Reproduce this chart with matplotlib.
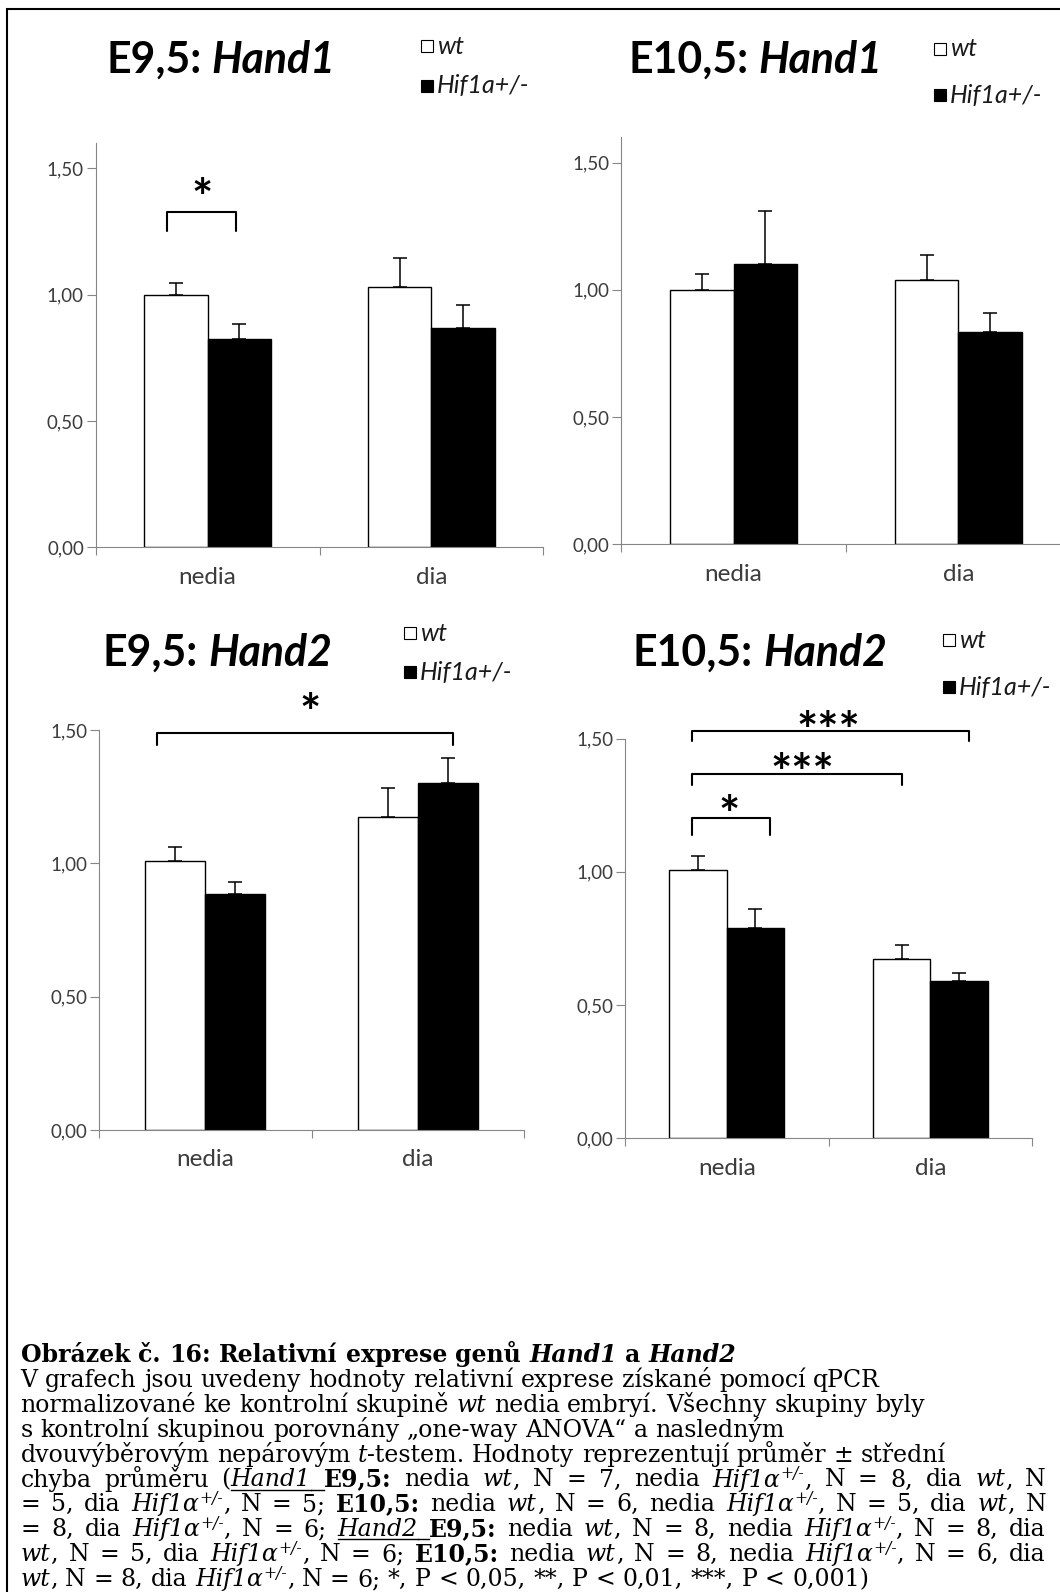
import numpy as np
import matplotlib
matplotlib.use("Agg")
import matplotlib.pyplot as plt
from matplotlib.font_manager import FontProperties
from matplotlib.patches import Rectangle
from matplotlib.lines import Line2D

plt.rcParams['font.family'] = ['Lato', 'DejaVu Sans']

# ---------------------------------------------------------------- data
categories = ["nedia", "dia"]
series_names = ["wt", "Hif1a+/-"]
yticks = [0.0, 0.5, 1.0, 1.5]
ytick_labels = ["0,00", "0,50", "1,00", "1,50"]

# Hand1, E9,5
hand1_e95_wt = [1.00, 1.03]
hand1_e95_wt_sem = [0.045, 0.115]
hand1_e95_hif = [0.824, 0.868]
hand1_e95_hif_sem = [0.058, 0.091]

# Hand1, E10,5
hand1_e105_wt = [1.00, 1.04]
hand1_e105_wt_sem = [0.064, 0.098]
hand1_e105_hif = [1.10, 0.833]
hand1_e105_hif_sem = [0.211, 0.076]

# Hand2, E9,5
hand2_e95_wt = [1.008, 1.173]
hand2_e95_wt_sem = [0.053, 0.109]
hand2_e95_hif = [0.886, 1.302]
hand2_e95_hif_sem = [0.046, 0.092]

# Hand2, E10,5
hand2_e105_wt = [1.008, 0.673]
hand2_e105_wt_sem = [0.050, 0.052]
hand2_e105_hif = [0.789, 0.591]
hand2_e105_hif_sem = [0.072, 0.029]

# ---------------------------------------------------------------- figure
FIG_W, FIG_H, DPI = 1060, 1592, 100
fig = plt.figure(figsize=(FIG_W / DPI, FIG_H / DPI), dpi=DPI, facecolor='white')
renderer = fig.canvas.get_renderer()

AX_COLOR = '#868686'
TICK_TEXT = '#3c3c3c'
BAR_W = 0.282
YLABEL_SIZE = 13.5
XLABEL_SIZE = 17.5
LEGEND_SIZE = 18
STAR_SIZE = 36


def fx(x):
    return x / FIG_W


def fy(y):
    return 1 - y / FIG_H


def font_for(family, style, size):
    if 's' in style:
        size = size * 0.66
    return FontProperties(family=family,
                          weight='bold' if 'b' in style else 'normal',
                          style='italic' if 'i' in style else 'normal',
                          size=size)


def advance(s, fp):
    bars = renderer.get_text_width_height_descent('||', fp, ismath=False)[0]
    full = renderer.get_text_width_height_descent('|' + s + '|', fp, ismath=False)[0]
    return full - bars


def split_runs(runs):
    items = []
    for text, style in runs:
        parts = text.split(' ')
        for k, part in enumerate(parts):
            if k:
                items.append((' ', style))
            if part:
                items.append((part, style))
    return items


def runs_width(runs, family, size):
    return sum(advance(s, font_for(family, st, size)) for s, st in split_runs(runs))


def draw_runs(runs, x0, y0, family, size, justify_to=None, color='black'):
    """Draw styled text runs left to right from pixel (x0, baseline y0)."""
    items = split_runs(runs)
    widths = [advance(s, font_for(family, st, size)) for s, st in items]
    n_sp = sum(1 for s, _ in items if s == ' ')
    extra = 0.0
    if justify_to is not None and n_sp:
        extra = (justify_to - x0 - sum(widths)) / n_sp
    px = size * DPI / 72.0
    x = x0
    for (s, st), w in zip(items, widths):
        if s == ' ':
            w += extra
        else:
            rise = 0.36 * px if 's' in st else 0.0
            fig.text(fx(x), fy(y0 - rise), s, fontproperties=font_for(family, st, size),
                     va='baseline', ha='left', color=color)
        if 'u' in st:
            fig.add_artist(Line2D([fx(x), fx(x + w)], [fy(y0 + 3), fy(y0 + 3)],
                                  transform=fig.transFigure, color=color, lw=1.0))
        x += w
    return x - x0


# ---------------------------------------------------------------- panels
panels = [
    dict(stage="E9,5: ", gene="Hand1",
         wt=hand1_e95_wt, wt_sem=hand1_e95_wt_sem,
         hif=hand1_e95_hif, hif_sem=hand1_e95_hif_sem,
         ymax=1.6, box=(95.7, 543.3, 143.1, 547.2),
         title_xy=(106, 73), legend=(421, 46, 86),
         brackets=[(0.317, 0.625, 1.327, 0.075, "*", 0.475, 1.43)]),
    dict(stage="E10,5: ", gene="Hand1",
         wt=hand1_e105_wt, wt_sem=hand1_e105_wt_sem,
         hif=hand1_e105_hif, hif_sem=hand1_e105_hif_sem,
         ymax=1.6, box=(621.3, 1070.7, 137.2, 544.2),
         title_xy=(628, 73), legend=(934, 49, 95),
         brackets=[]),
    dict(stage="E9,5: ", gene="Hand2",
         wt=hand2_e95_wt, wt_sem=hand2_e95_wt_sem,
         hif=hand2_e95_hif, hif_sem=hand2_e95_hif_sem,
         ymax=1.5, box=(99.0, 524.0, 730.1, 1130.0),
         title_xy=(103, 666), legend=(404, 633, 672),
         brackets=[(0.271, 1.665, 1.49, 0.045, "*", 0.995, 1.61)]),
    dict(stage="E10,5: ", gene="Hand2",
         wt=hand2_e105_wt, wt_sem=hand2_e105_wt_sem,
         hif=hand2_e105_hif, hif_sem=hand2_e105_hif_sem,
         ymax=1.5, box=(625.0, 1032.0, 738.5, 1138.4),
         title_xy=(633, 666), legend=(943, 640, 687),
         brackets=[(0.331, 1.688, 1.529, 0.038, "***", 1.0, 1.573),
                   (0.331, 1.361, 1.367, 0.041, "***", 0.87, 1.417),
                   (0.331, 0.713, 1.201, 0.064, "*", 0.513, 1.258)]),
]

# title size chosen so that "E9,5: Hand1" spans about 229 px
probe = [("E9,5: ", "b"), ("Hand1", "bi")]
TITLE_SIZE = 28 * 229.0 / runs_width(probe, 'Lato', 28)

for p in panels:
    l, r, t, b = p['box']
    ax = fig.add_axes([fx(l), fy(b), (r - l) / FIG_W, (b - t) / FIG_H])
    ax.set_xlim(0, len(categories))
    ax.set_ylim(0, p['ymax'])
    ax.patch.set_alpha(0)

    x = np.arange(len(categories)) + 0.5
    zeros = np.zeros(len(categories))
    err_kw = dict(ecolor='black', elinewidth=1.1, capthick=1.1, zorder=3)
    ax.bar(x - BAR_W / 2, p['wt'], BAR_W, color='white', edgecolor='black', linewidth=1.0,
           yerr=[zeros, p['wt_sem']], capsize=5, error_kw=err_kw, zorder=2,
           label=series_names[0])
    ax.bar(x + BAR_W / 2, p['hif'], BAR_W, color='black', edgecolor='black', linewidth=1.0,
           yerr=[zeros, p['hif_sem']], capsize=5, error_kw=err_kw, zorder=2,
           label=series_names[1])

    for side in ('top', 'right'):
        ax.spines[side].set_visible(False)
    for side in ('left', 'bottom'):
        ax.spines[side].set_color(AX_COLOR)
        ax.spines[side].set_linewidth(0.8)

    ax.set_xticks(np.arange(len(categories) + 1))
    ax.set_xticklabels([''] * (len(categories) + 1))
    ax.set_xticks(x, minor=True)
    ax.set_xticklabels(categories, minor=True)
    ax.tick_params(axis='x', which='major', direction='out', length=5.5, width=0.8,
                   color=AX_COLOR)
    ax.tick_params(axis='x', which='minor', length=0, pad=14, labelsize=XLABEL_SIZE,
                   labelcolor=TICK_TEXT)
    ax.set_yticks(yticks)
    ax.set_yticklabels(ytick_labels)
    ax.tick_params(axis='y', direction='out', length=6.5, width=0.8, color=AX_COLOR,
                   pad=2.0, labelsize=YLABEL_SIZE, labelcolor=TICK_TEXT)

    # significance brackets
    for xl, xr, ytop, drop, stars, sx, sy in p['brackets']:
        ax.plot([xl, xl, xr, xr], [ytop - drop, ytop, ytop, ytop - drop], color='black',
                lw=1.5, solid_joinstyle='round', solid_capstyle='round', clip_on=False,
                zorder=4)
        ax.annotate(stars, xy=(sx, sy), xycoords='data',
                    xytext=(0, -0.58 * STAR_SIZE), textcoords='offset points',
                    ha='center', va='baseline', fontsize=STAR_SIZE, fontweight='bold',
                    annotation_clip=False)

    # panel title
    tx, ty = p['title_xy']
    draw_runs([(p['stage'], "b"), (p['gene'], "bi")], tx, ty, 'Lato', TITLE_SIZE)

    # legend
    lx, wy, hy = p['legend']
    for yc, face, name in ((wy, 'white', series_names[0]), (hy, 'black', series_names[1])):
        fig.add_artist(Rectangle((fx(lx), fy(yc + 6)), 12 / FIG_W, 12 / FIG_H,
                                 transform=fig.transFigure, facecolor=face,
                                 edgecolor='black', lw=0.8))
        fig.text(fx(lx + 16), fy(yc), name, fontsize=LEGEND_SIZE, style='italic',
                 va='center', ha='left', color='#1a1a1a')

# ---------------------------------------------------------------- frame
fig.add_artist(Line2D([fx(7.3), fx(7.3), fx(FIG_W)], [fy(FIG_H), fy(8.5), fy(8.5)],
                      transform=fig.transFigure, color='black', lw=1.5,
                      solid_joinstyle='miter'))

# ---------------------------------------------------------------- caption
caption = [
    ([("Obrázek č. 16: Relativní exprese genů ", "b"), ("Hand1", "bi"), (" a ", "b"),
      ("Hand2", "bi")], False),
    ([("V grafech jsou uvedeny hodnoty relativní exprese získané pomocí qPCR", "")], False),
    ([("normalizované ke kontrolní skupině ", ""), ("wt", "i"),
      (" nedia embryí. Všechny skupiny byly", "")], False),
    ([("s kontrolní skupinou porovnány „one-way ANOVA“ a nasledným", "")], False),
    ([("dvouvýběrovým nepárovým ", ""), ("t", "i"),
      ("-testem. Hodnoty reprezentují průměr ± střední", "")], False),
    ([("chyba průměru (", ""), ("Hand1 ", "iu"), ("E9,5:", "b"), (" nedia ", ""), ("wt", "i"),
      (", N = 7, nedia ", ""), ("Hif1α", "i"), ("+/-", "is"), (", N = 8, dia ", ""),
      ("wt", "i"), (", N", "")], True),
    ([("= 5, dia ", ""), ("Hif1α", "i"), ("+/-", "is"), (", N = 5; ", ""), ("E10,5:", "b"),
      (" nedia ", ""), ("wt", "i"), (", N = 6, nedia ", ""), ("Hif1α", "i"), ("+/-", "is"),
      (", N = 5, dia ", ""), ("wt", "i"), (", N", "")], True),
    ([("= 8, dia ", ""), ("Hif1α", "i"), ("+/-", "is"), (", N = 6; ", ""), ("Hand2 ", "iu"),
      ("E9,5:", "b"), (" nedia ", ""), ("wt", "i"), (", N = 8, nedia ", ""), ("Hif1α", "i"),
      ("+/-", "is"), (", N = 8, dia", "")], True),
    ([("wt", "i"), (", N = 5, dia ", ""), ("Hif1α", "i"), ("+/-", "is"), (", N = 6; ", ""),
      ("E10,5:", "b"), (" nedia ", ""), ("wt", "i"), (", N = 8, nedia ", ""), ("Hif1α", "i"),
      ("+/-", "is"), (", N = 6, dia", "")], True),
    ([("wt", "i"), (", N = 8, dia ", ""), ("Hif1α", "i"), ("+/-", "is"),
      (", N = 6; *, P < 0,05, **, P < 0,01, ***, P < 0,001)", "")], False),
]

SERIF = 'DejaVu Serif'
CAP_LEFT, CAP_RIGHT = 20.5, 1046.0
size_a = 16 * 974.0 / runs_width(caption[2][0], SERIF, 16)
size_b = min(16 * (CAP_RIGHT - CAP_LEFT - 8) / runs_width(runs, SERIF, 16)
             for runs, just in caption if just)
CAP_SIZE = 0.95 * min(size_a, size_b)
CAP_TOP_BASELINE, CAP_LEADING = 1362.0, 24.9

for i, (runs, justify) in enumerate(caption):
    draw_runs(runs, CAP_LEFT, CAP_TOP_BASELINE + i * CAP_LEADING, SERIF, CAP_SIZE,
              justify_to=CAP_RIGHT if justify else None)

fig.savefig("out.png", dpi=DPI, facecolor='white')
